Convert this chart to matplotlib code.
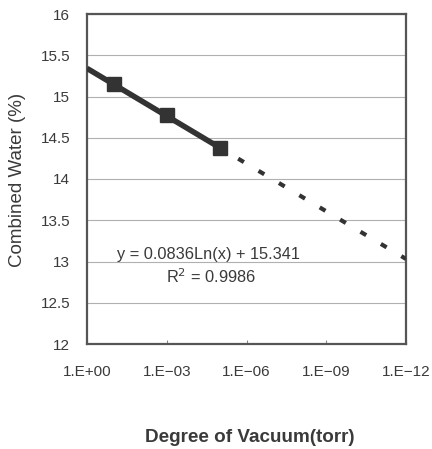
import numpy as np
import matplotlib
matplotlib.use("Agg")
import matplotlib.pyplot as plt

plt.rcParams["font.family"] = ["Liberation Sans", "DejaVu Sans"]

# measured points (torr, %)
vacuum = [1e-1, 1e-3, 1e-5]
water = [15.15, 14.77, 14.37]
# log fit shown on chart
slope = 0.0836
intercept = 15.341
fit_solid_x = [1e0, 1e-5]
fit_dash_x = [1e-5, 1e-12]
xticks = [1e0, 1e-3, 1e-6, 1e-9, 1e-12]
xticklabels = ["1.E+00", "1.E\u221203", "1.E\u221206", "1.E\u221209", "1.E\u221212"]
yticks = [12, 12.5, 13, 13.5, 14, 14.5, 15, 15.5, 16]
yticklabels = ["12", "12.5", "13", "13.5", "14", "14.5", "15", "15.5", "16"]

txt = "#3a3a3a"
line_c = "#333333"

fig = plt.figure(figsize=(4.32, 4.49), dpi=100)
ax = fig.add_axes([87/432, 1-344/449, (406-87)/432, (344-14)/449])

def fit(x):
    return slope*np.log(np.array(x)) + intercept

xs = np.logspace(np.log10(fit_solid_x[0]), np.log10(fit_solid_x[1]), 50)
ax.plot(xs, fit(xs), color=line_c, lw=4.0, solid_capstyle="butt", zorder=3)
xd = np.logspace(np.log10(fit_dash_x[0]), np.log10(fit_dash_x[1]), 50)
ax.plot(xd, fit(xd), color=line_c, lw=3.0, linestyle=(0.6, (1.6, 4.1)),
        dash_capstyle="butt", zorder=3)
ax.plot(vacuum, water, linestyle="none", marker="s", ms=9.5, color=line_c,
        zorder=4)

ax.set_xscale("log")
ax.set_xlim(1e0, 1e-12)
ax.set_ylim(12, 16)
ax.set_xticks(xticks)
ax.set_xticklabels(xticklabels)
ax.minorticks_off()
ax.set_yticks(yticks)
ax.set_yticklabels(yticklabels)
ax.tick_params(axis="x", direction="in", length=3, width=0.8, color="#888888",
               labelsize=11, labelcolor=txt, pad=15)
ax.tick_params(axis="y", length=0, labelsize=11, labelcolor=txt, pad=12)
ax.grid(axis="y", color="#b0b0b0", lw=0.8)
ax.set_axisbelow(True)
for s in ax.spines.values():
    s.set_color("#555555")
    s.set_linewidth(1.6)

ax.text(208/432, 1-254/449, "y = 0.0836Ln(x) + 15.341", transform=fig.transFigure,
        ha="center", va="center", fontsize=11.8, color=txt)
ax.text(211/432, 1-277/449, r"R$^2$ = 0.9986", transform=fig.transFigure,
        ha="center", va="center", fontsize=11.8, color=txt)

fig.text(250/432, 1-438/449, "Degree of Vacuum(torr)", ha="center", va="center",
         fontsize=13.6, fontweight="bold", color=txt)
fig.text(18/432, 1-180/449, "Combined Water (%)", ha="center", va="center",
         rotation=90, fontsize=13.5, color=txt)

fig.savefig("out.png", dpi=100)
